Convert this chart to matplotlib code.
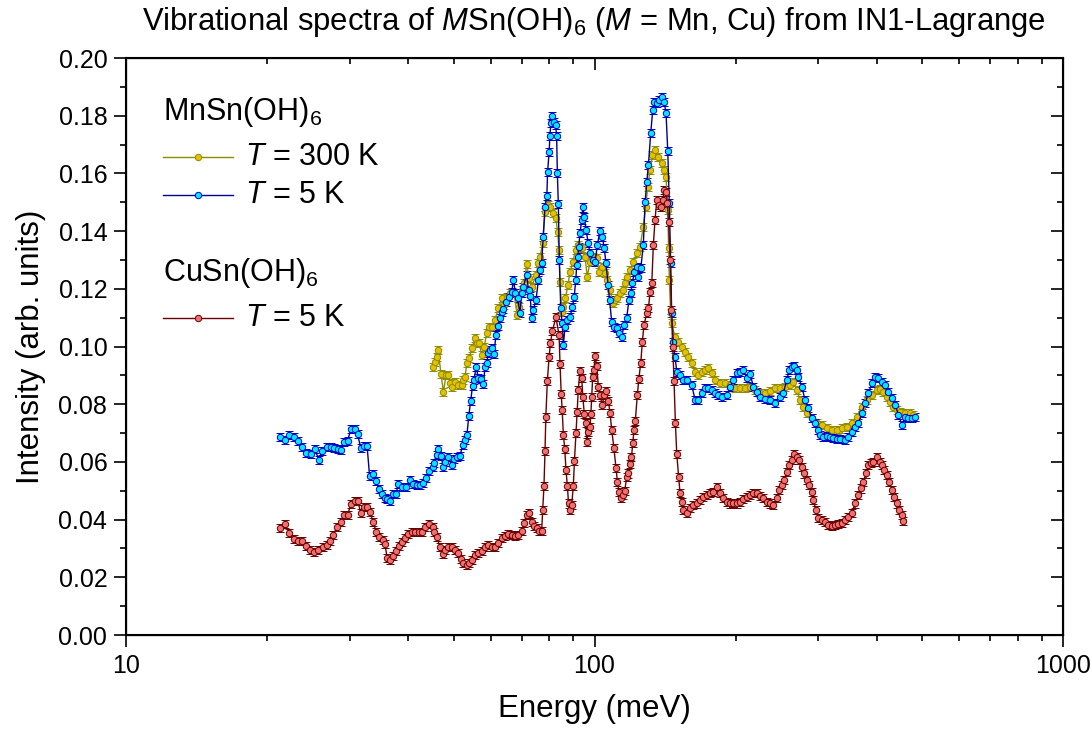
import matplotlib
matplotlib.use("Agg")
import matplotlib.pyplot as plt
from matplotlib.ticker import FixedLocator, MultipleLocator, FormatStrFormatter, NullFormatter
from matplotlib.lines import Line2D

plt.rcParams['font.family'] = ['Liberation Sans', 'DejaVu Sans']
plt.rcParams['mathtext.fontset'] = 'custom'
plt.rcParams['mathtext.rm'] = 'Liberation Sans'
plt.rcParams['mathtext.it'] = 'Liberation Sans:italic'
plt.rcParams['mathtext.bf'] = 'Liberation Sans:bold'

# --- MnSn(OH)6, T = 5 K ---
mn5_energy = [
    21.3, 21.8, 22.3, 22.8, 23.3, 23.8, 24.2, 24.8, 25.3, 25.8, 26.2, 26.8, 27.4, 27.8, 28.3, 28.8,
    29.2, 29.7, 30.2, 30.8, 31.2, 31.7, 32.2, 32.7, 33.1, 33.7, 34.2, 34.6, 35.1, 35.7, 36.1, 36.6,
    37.1, 37.7, 38.1, 38.8, 39.6, 40.4, 41.0, 41.7, 42.4, 43.1, 43.7, 44.4, 45.1, 45.4, 46.0, 46.4,
    47.0, 47.6, 48.0, 48.6, 49.6, 50.0, 50.8, 51.6, 52.3, 52.9, 53.4, 53.9, 54.4, 54.9, 55.3, 55.9,
    56.5, 57.2, 57.9, 58.4, 58.9, 59.3, 59.8, 60.3, 61.0, 61.6, 62.3, 62.8, 63.4, 63.9, 64.8, 65.8,
    66.6, 67.1, 67.8, 68.5, 69.3, 69.9, 70.5, 71.6, 72.3, 72.9, 73.4, 74.0, 75.0, 75.9, 76.5, 77.1,
    77.7, 78.4, 79.1, 79.4, 80.0, 80.3, 80.7, 81.3, 81.9, 82.6, 83.0, 83.3, 83.7, 84.1, 84.7, 85.3,
    85.8, 86.5, 87.5, 88.7, 89.7, 90.5, 91.2, 91.6, 92.1, 92.5, 93.1, 93.9, 94.4, 95.1, 95.9, 97.0,
    97.8, 99.1, 100.3, 101.4, 102.7, 103.9, 104.9, 105.8, 106.9, 107.7, 108.8, 110.0, 111.5, 112.9,
    114.3, 115.6, 117.1, 118.4, 119.5, 120.4, 121.6, 123.0, 124.0, 125.5, 127.1, 128.2, 129.3, 130.3,
    131.8, 133.1, 134.2, 135.8, 137.3, 139.2, 140.7, 142.1, 143.3, 144.4, 145.4, 146.1, 147.2, 148.5,
    149.8, 152.2, 154.7, 157.3, 161.2, 163.9, 166.6, 169.4, 172.2, 175.0, 177.9, 180.8, 183.8, 186.9,
    191.5, 194.7, 197.9, 201.2, 204.5, 207.8, 211.4, 214.8, 218.3, 221.9, 225.6, 231.2, 236.9, 242.8,
    248.9, 252.9, 257.2, 260.5, 263.6, 267.0, 270.2, 272.3, 276.9, 281.4, 286.0, 290.8, 295.6, 300.5,
    303.0, 308.0, 313.1, 318.3, 323.5, 328.9, 334.2, 342.5, 348.1, 354.0, 359.8, 365.7, 371.9, 378.0,
    384.2, 390.7, 397.0, 403.6, 410.4, 417.2, 424.0, 431.1, 438.2, 445.4, 452.9, 460.2, 467.8, 475.6,
    483.4]
mn5_intensity = [
    0.0687, 0.0676, 0.0693, 0.0685, 0.0673, 0.0653, 0.0630, 0.0627, 0.0644, 0.0607, 0.0639, 0.0653,
    0.0651, 0.0647, 0.0645, 0.0641, 0.0668, 0.0673, 0.0713, 0.0713, 0.0697, 0.0647, 0.0655, 0.0655,
    0.0552, 0.0558, 0.0535, 0.0505, 0.0489, 0.0476, 0.0470, 0.0466, 0.0489, 0.0489, 0.0522, 0.0512,
    0.0512, 0.0537, 0.0523, 0.0520, 0.0521, 0.0526, 0.0545, 0.0567, 0.0583, 0.0597, 0.0624, 0.0644,
    0.0620, 0.0583, 0.0600, 0.0618, 0.0589, 0.0609, 0.0616, 0.0620, 0.0659, 0.0676, 0.0693, 0.0759,
    0.0812, 0.0863, 0.0884, 0.0930, 0.0890, 0.0886, 0.0870, 0.0930, 0.0944, 0.0979, 0.0988, 0.0994,
    0.0974, 0.1040, 0.1071, 0.1098, 0.1121, 0.1130, 0.1154, 0.1173, 0.1190, 0.1231, 0.1186, 0.1168,
    0.1115, 0.1185, 0.1207, 0.1248, 0.1196, 0.1175, 0.1098, 0.1127, 0.1161, 0.1231, 0.1265, 0.1288,
    0.1381, 0.1485, 0.1522, 0.1606, 0.1675, 0.1730, 0.1774, 0.1799, 0.1779, 0.1768, 0.1730, 0.1600,
    0.1494, 0.1300, 0.1132, 0.1080, 0.1005, 0.1069, 0.1092, 0.1103, 0.1138, 0.1173, 0.1231, 0.1282,
    0.1311, 0.1346, 0.1392, 0.1438, 0.1482, 0.1450, 0.1404, 0.1358, 0.1323, 0.1300, 0.1294, 0.1352,
    0.1401, 0.1381, 0.1340, 0.1288, 0.1213, 0.1161, 0.1086, 0.1069, 0.1063, 0.1046, 0.1034, 0.1075,
    0.1098, 0.1161, 0.1184, 0.1219, 0.1259, 0.1277, 0.1242, 0.1271, 0.1352, 0.1502, 0.1571, 0.1629,
    0.1739, 0.1820, 0.1849, 0.1843, 0.1854, 0.1866, 0.1849, 0.1810, 0.1679, 0.1496, 0.1288, 0.1115,
    0.1017, 0.0965, 0.0913, 0.0901, 0.0884, 0.0884, 0.0867, 0.0815, 0.0815, 0.0838, 0.0855, 0.0855,
    0.0849, 0.0838, 0.0832, 0.0826, 0.0832, 0.0861, 0.0884, 0.0907, 0.0913, 0.0919, 0.0890, 0.0905,
    0.0861, 0.0843, 0.0826, 0.0817, 0.0815, 0.0803, 0.0826, 0.0838, 0.0884, 0.0919, 0.0930, 0.0932,
    0.0919, 0.0895, 0.0861, 0.0815, 0.0786, 0.0751, 0.0734, 0.0711, 0.0693, 0.0687, 0.0690, 0.0687,
    0.0682, 0.0678, 0.0678, 0.0676, 0.0687, 0.0705, 0.0722, 0.0734, 0.0768, 0.0803, 0.0838, 0.0872,
    0.0895, 0.0890, 0.0878, 0.0867, 0.0843, 0.0820, 0.0797, 0.0763, 0.0728, 0.0757, 0.0751, 0.0751,
    0.0757]

# --- MnSn(OH)6, T = 300 K ---
mn300_energy = [
    45.2, 45.7, 46.0, 46.4, 47.0, 47.6, 48.2, 48.7, 49.2, 49.6, 50.4, 51.2, 52.1, 52.5, 52.9, 53.4,
    54.0, 54.7, 55.6, 56.0, 56.8, 57.4, 58.1, 58.9, 59.6, 60.3, 61.3, 62.3, 63.4, 64.0, 64.9, 66.0,
    67.3, 68.4, 69.1, 69.9, 70.8, 71.6, 72.6, 73.4, 75.0, 75.9, 76.5, 77.5, 78.4, 79.4, 80.3, 81.7,
    82.7, 83.4, 84.0, 84.4, 85.1, 85.8, 86.7, 87.7, 88.7, 89.9, 91.1, 92.1, 93.9, 95.4, 96.5, 97.8,
    99.4, 101.1, 102.4, 103.7, 105.3, 106.5, 107.9, 109.4, 110.6, 111.9, 113.3, 114.8, 116.2, 117.5,
    119.1, 121.0, 123.0, 125.1, 127.1, 128.6, 129.9, 131.4, 132.9, 134.6, 136.9, 139.2, 140.9, 142.1,
    143.3, 143.9, 144.4, 145.4, 146.1, 148.5, 150.9, 153.4, 155.9, 158.5, 161.2, 163.9, 166.6, 169.4,
    172.2, 175.0, 177.9, 180.8, 185.4, 189.9, 194.7, 199.5, 204.5, 209.6, 214.8, 220.1, 225.6, 231.2,
    236.9, 242.8, 248.9, 255.0, 261.4, 265.7, 270.2, 274.6, 279.1, 283.8, 290.8, 298.1, 305.5, 313.1,
    320.8, 328.9, 336.9, 345.3, 354.0, 362.6, 371.9, 380.8, 390.7, 400.2, 406.9, 413.4, 420.5, 427.3,
    434.4, 441.6, 448.8, 460.2, 471.5, 479.0]
mn300_intensity = [
    0.0928, 0.0947, 0.0965, 0.0988, 0.0905, 0.0843, 0.0901, 0.0901, 0.0872, 0.0861, 0.0878, 0.0867,
    0.0867, 0.0884, 0.0895, 0.0942, 0.0959, 0.0994, 0.1028, 0.1011, 0.1011, 0.0971, 0.0999, 0.1046,
    0.1069, 0.1069, 0.1092, 0.1132, 0.1167, 0.1144, 0.1173, 0.1184, 0.1184, 0.1109, 0.1138, 0.1196,
    0.1219, 0.1285, 0.1236, 0.1207, 0.1248, 0.1288, 0.1311, 0.1358, 0.1467, 0.1490, 0.1485, 0.1462,
    0.1444, 0.1398, 0.1334, 0.1225, 0.1121, 0.1138, 0.1167, 0.1213, 0.1259, 0.1294, 0.1334, 0.1352,
    0.1340, 0.1311, 0.1242, 0.1294, 0.1311, 0.1306, 0.1259, 0.1277, 0.1254, 0.1231, 0.1196, 0.1150,
    0.1161, 0.1167, 0.1184, 0.1196, 0.1219, 0.1242, 0.1265, 0.1294, 0.1323, 0.1346, 0.1415, 0.1485,
    0.1554, 0.1612, 0.1664, 0.1681, 0.1658, 0.1635, 0.1612, 0.1589, 0.1473, 0.1340, 0.1231, 0.1115,
    0.1080, 0.1034, 0.1017, 0.0999, 0.0982, 0.0965, 0.0942, 0.0913, 0.0901, 0.0913, 0.0919, 0.0924,
    0.0907, 0.0884, 0.0872, 0.0872, 0.0867, 0.0855, 0.0855, 0.0855, 0.0859, 0.0849, 0.0840, 0.0840,
    0.0847, 0.0855, 0.0855, 0.0859, 0.0867, 0.0878, 0.0849, 0.0815, 0.0791, 0.0768, 0.0751, 0.0734,
    0.0728, 0.0716, 0.0711, 0.0711, 0.0716, 0.0722, 0.0734, 0.0757, 0.0791, 0.0815, 0.0832, 0.0849,
    0.0852, 0.0843, 0.0826, 0.0809, 0.0791, 0.0780, 0.0774, 0.0768, 0.0768, 0.0763]

# --- CuSn(OH)6, T = 5 K ---
cu5_energy = [
    21.3, 21.8, 22.3, 22.8, 23.3, 23.8, 24.2, 24.7, 25.2, 25.7, 26.3, 26.8, 27.3, 27.7, 28.2, 28.7,
    29.2, 29.7, 30.2, 30.8, 31.2, 31.7, 32.2, 32.7, 33.2, 33.7, 34.2, 34.7, 35.3, 35.7, 36.1, 36.6,
    37.1, 37.7, 38.3, 38.8, 39.4, 40.0, 40.7, 41.4, 42.1, 42.8, 43.5, 44.4, 45.1, 45.5, 46.0, 46.8,
    47.4, 48.0, 48.7, 49.6, 50.4, 51.2, 51.8, 52.5, 53.4, 54.0, 54.7, 55.6, 56.5, 57.4, 58.4, 59.3,
    60.3, 61.3, 62.3, 63.4, 64.4, 65.5, 66.6, 67.6, 68.8, 69.9, 70.7, 71.6, 72.6, 73.4, 74.4, 75.2,
    76.2, 77.1, 77.5, 78.0, 78.4, 78.7, 79.3, 80.0, 80.5, 81.3, 82.7, 84.0, 84.4, 84.9, 85.3, 85.8,
    86.4, 86.9, 87.5, 88.0, 88.7, 89.4, 90.1, 90.6, 91.3, 91.8, 92.3, 93.1, 93.9, 94.4, 95.1, 95.8,
    96.2, 97.0, 97.8, 98.2, 98.6, 99.1, 99.7, 100.3, 101.1, 101.9, 102.7, 103.9, 104.8, 105.8, 107.0,
    107.9, 108.8, 110.0, 111.1, 111.9, 112.8, 113.7, 114.8, 116.0, 117.1, 118.1, 119.1, 119.9, 120.7,
    121.4, 122.2, 123.4, 124.3, 125.5, 126.5, 127.5, 129.3, 130.3, 131.4, 132.5, 133.5, 134.6, 135.8,
    137.3, 138.5, 139.8, 140.9, 142.1, 143.0, 143.9, 145.0, 145.9, 146.9, 147.8, 148.8, 149.8, 151.2,
    152.2, 153.4, 154.7, 157.3, 159.9, 162.4, 165.2, 167.9, 170.6, 173.5, 176.3, 179.2, 182.8, 185.4,
    188.3, 191.5, 194.7, 197.9, 201.2, 204.5, 207.8, 211.4, 214.8, 218.3, 221.9, 225.6, 229.3, 233.1,
    236.9, 240.8, 244.9, 247.9, 250.9, 253.8, 257.2, 260.5, 263.6, 266.6, 270.2, 273.5, 276.9, 279.9,
    283.8, 287.0, 290.8, 293.0, 297.0, 300.5, 305.5, 310.5, 315.5, 320.8, 326.1, 331.4, 336.9, 342.5,
    348.1, 354.0, 359.8, 365.7, 369.8, 374.5, 379.7, 384.2, 388.4, 393.4, 400.2, 406.2, 410.4, 414.9,
    420.5, 425.9, 431.1, 436.1, 441.6, 447.3, 452.9, 454.8]
cu5_intensity = [
    0.0370, 0.0385, 0.0355, 0.0333, 0.0326, 0.0326, 0.0308, 0.0295, 0.0289, 0.0295, 0.0306, 0.0312,
    0.0327, 0.0347, 0.0375, 0.0393, 0.0416, 0.0416, 0.0453, 0.0466, 0.0466, 0.0424, 0.0445, 0.0443,
    0.0427, 0.0391, 0.0358, 0.0341, 0.0329, 0.0315, 0.0266, 0.0260, 0.0275, 0.0292, 0.0308, 0.0323,
    0.0335, 0.0350, 0.0356, 0.0356, 0.0358, 0.0358, 0.0373, 0.0384, 0.0373, 0.0358, 0.0341, 0.0306,
    0.0280, 0.0295, 0.0304, 0.0304, 0.0295, 0.0283, 0.0262, 0.0249, 0.0243, 0.0249, 0.0260, 0.0277,
    0.0283, 0.0292, 0.0306, 0.0312, 0.0306, 0.0306, 0.0318, 0.0335, 0.0343, 0.0350, 0.0347, 0.0343,
    0.0347, 0.0360, 0.0389, 0.0416, 0.0422, 0.0393, 0.0378, 0.0370, 0.0360, 0.0360, 0.0433, 0.0518,
    0.0639, 0.0754, 0.0881, 0.0965, 0.1011, 0.1054, 0.1101, 0.1040, 0.0939, 0.0834, 0.0780, 0.0694,
    0.0644, 0.0572, 0.0518, 0.0456, 0.0433, 0.0451, 0.0518, 0.0604, 0.0699, 0.0773, 0.0849, 0.0916,
    0.0890, 0.0826, 0.0766, 0.0736, 0.0670, 0.0703, 0.0720, 0.0765, 0.0824, 0.0895, 0.0919, 0.0968,
    0.0932, 0.0861, 0.0832, 0.0797, 0.0832, 0.0847, 0.0812, 0.0771, 0.0711, 0.0648, 0.0579, 0.0531,
    0.0497, 0.0474, 0.0485, 0.0500, 0.0547, 0.0560, 0.0593, 0.0616, 0.0667, 0.0711, 0.0743, 0.0832,
    0.0886, 0.0944, 0.1017, 0.1075, 0.1115, 0.1132, 0.1190, 0.1219, 0.1352, 0.1438, 0.1508, 0.1490,
    0.1485, 0.1508, 0.1542, 0.1537, 0.1496, 0.1433, 0.1300, 0.1127, 0.0999, 0.0881, 0.0734, 0.0627,
    0.0549, 0.0493, 0.0462, 0.0433, 0.0422, 0.0439, 0.0451, 0.0456, 0.0468, 0.0479, 0.0485, 0.0491,
    0.0497, 0.0514, 0.0491, 0.0474, 0.0462, 0.0456, 0.0459, 0.0456, 0.0462, 0.0470, 0.0477, 0.0485,
    0.0491, 0.0493, 0.0482, 0.0474, 0.0462, 0.0456, 0.0451, 0.0474, 0.0503, 0.0520, 0.0537, 0.0566,
    0.0589, 0.0607, 0.0627, 0.0618, 0.0607, 0.0583, 0.0560, 0.0537, 0.0520, 0.0497, 0.0468, 0.0433,
    0.0405, 0.0399, 0.0393, 0.0381, 0.0378, 0.0381, 0.0385, 0.0389, 0.0399, 0.0410, 0.0422, 0.0456,
    0.0485, 0.0508, 0.0531, 0.0560, 0.0589, 0.0597, 0.0601, 0.0618, 0.0601, 0.0589, 0.0572, 0.0555,
    0.0531, 0.0503, 0.0479, 0.0456, 0.0433, 0.0416, 0.0396]

# error bar half-heights (approx. constant in the picture)
mn300_err = 0.0014
mn5_err = 0.0014
cu5_err = 0.0014

x_ticks = [10, 100, 1000]
x_ticklabels = ['10', '100', '1000']

# style per series: (line colour, marker face, marker edge)
sty_mn300 = ('#8c8c00', '#e6c000', '#8c8c00')
sty_mn5 = ('#00008f', '#00e8ff', '#0000c8')
sty_cu5 = ('#680000', '#f07070', '#680000')

fig = plt.figure(figsize=(10.92, 7.31), dpi=100)
ax = fig.add_axes([0.1154, 0.1313, 0.8581, 0.7893])

def draw(e, i, err, sty):
    ax.errorbar(e, i, yerr=err, color=sty[0], lw=1.0, ecolor=sty[2], elinewidth=1.1,
                capsize=3.2, capthick=1.1, marker='o', ms=4.6, mfc=sty[1], mec=sty[2],
                mew=0.7)

draw(mn300_energy, mn300_intensity, mn300_err, sty_mn300)
draw(mn5_energy, mn5_intensity, mn5_err, sty_mn5)
draw(cu5_energy, cu5_intensity, cu5_err, sty_cu5)

ax.set_xscale('log')
ax.set_xlim(10, 1000)
ax.set_ylim(0, 0.20)
ax.xaxis.set_major_locator(FixedLocator(x_ticks))
ax.set_xticklabels(x_ticklabels)
ax.xaxis.set_minor_formatter(NullFormatter())
ax.yaxis.set_major_locator(MultipleLocator(0.02))
ax.yaxis.set_minor_locator(MultipleLocator(0.01))
ax.yaxis.set_major_formatter(FormatStrFormatter('%.2f'))
ax.tick_params(which='major', direction='out', length=8.5, width=1.2, labelsize=18, pad=5)
ax.tick_params(which='minor', direction='out', length=4.5, width=1.2)
for s in ax.spines.values():
    s.set_linewidth(1.5)

# inward ticks on top and right
axr = ax.twinx()
axr.set_ylim(ax.get_ylim())
axr.yaxis.set_major_locator(MultipleLocator(0.02))
axr.yaxis.set_minor_locator(MultipleLocator(0.01))
axr.tick_params(which='major', direction='in', length=8.5, width=1.2, labelright=False)
axr.tick_params(which='minor', direction='in', length=4.5, width=1.2)
axt = ax.twiny()
axt.set_xscale('log')
axt.set_xlim(ax.get_xlim())
axt.xaxis.set_major_locator(FixedLocator(x_ticks))
axt.tick_params(which='major', direction='in', length=8.5, width=1.2, labeltop=False)
axt.tick_params(which='minor', direction='in', length=4.5, width=1.2, labeltop=False)

ax.set_xlabel('Energy (meV)', fontsize=22.5, labelpad=12)
ax.set_ylabel('Intensity (arb. units)', fontsize=22.5, labelpad=9)
fig.suptitle(r'Vibrational spectra of $M$Sn(OH)$_6$ ($M$ = Mn, Cu) from IN1-Lagrange',
             fontsize=22.3, x=0.5435, y=0.993, va='top')

# hand-placed legend block
lx0, lx1, lxm, ltx = 0.0395, 0.114, 0.0768, 0.127
fs_leg = 22
ax.text(lx0, 0.906, r'MnSn(OH)$_6$', transform=ax.transAxes, fontsize=fs_leg, va='center')
ax.text(lx0, 0.627, r'CuSn(OH)$_6$', transform=ax.transAxes, fontsize=fs_leg, va='center')
for y, lab, sty in [(0.828, r'$T$ = 300 K', sty_mn300),
                    (0.763, r'$T$ = 5 K', sty_mn5),
                    (0.549, r'$T$ = 5 K', sty_cu5)]:
    ax.add_line(Line2D([lx0, lx1], [y, y], transform=ax.transAxes, color=sty[0], lw=1.0))
    ax.add_line(Line2D([lxm], [y], transform=ax.transAxes, marker='o', ms=4.6,
                       mfc=sty[1], mec=sty[2], mew=0.7, ls='none'))
    ax.text(ltx, y, lab, transform=ax.transAxes, fontsize=fs_leg, va='center')

fig.savefig('out.png', dpi=100)
